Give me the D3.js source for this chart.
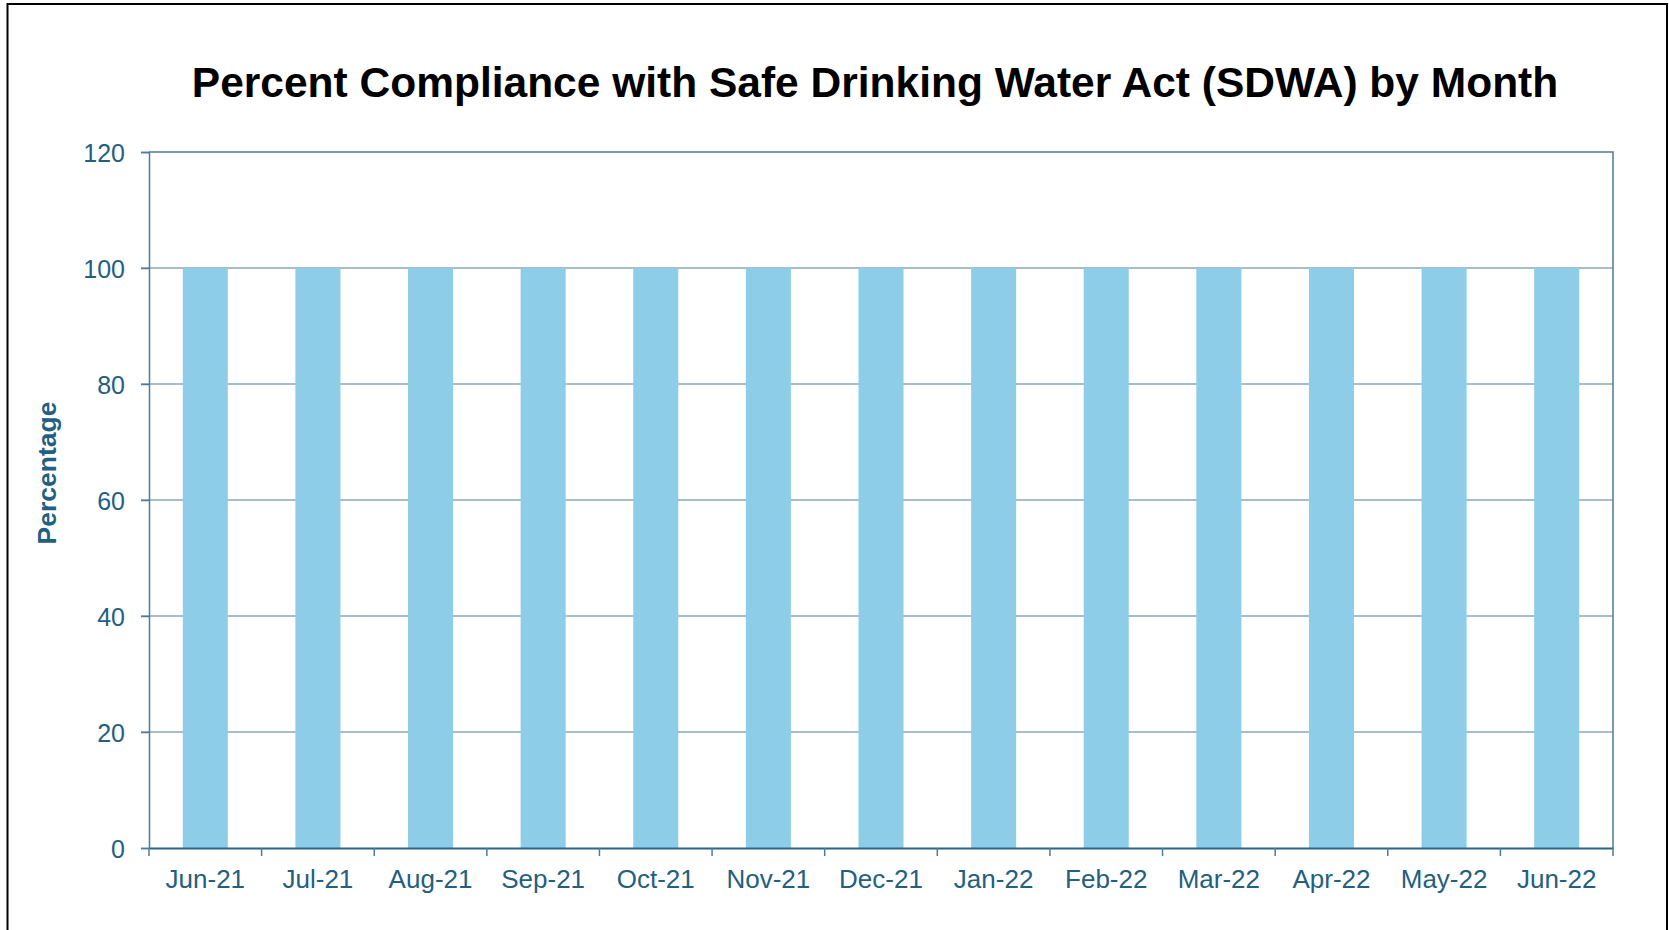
<!DOCTYPE html>
<html lang="en">

<head>
    <meta charset="UTF-8">
    <title>SDWA compliance</title>
    <script src="https://cdn.jsdelivr.net/npm/d3@7/dist/d3.min.js"></script>
    <style>
        body { margin: 0; background: #fff; overflow: hidden; }
        svg { display: block; }
        text { font-family: "Liberation Sans", Arial, sans-serif; }
        .axis text { fill: #235f80; font-size: 25px; }
        #xaxis text { font-size: 26px; }
    </style>
</head>

<body>
    <svg width="1669" height="930" id="mainsvg"></svg>
    <script>
        const months = ["Jun-21", "Jul-21", "Aug-21", "Sep-21", "Oct-21", "Nov-21", "Dec-21",
            "Jan-22", "Feb-22", "Mar-22", "Apr-22", "May-22", "Jun-22"];
        const compliance = [100, 100, 100, 100, 100, 100, 100, 100, 100, 100, 100, 100, 100];
        const yTicks = [0, 20, 40, 60, 80, 100, 120];

        const svg = d3.select('#mainsvg');
        const margin = { top: 152, right: 56, bottom: 82, left: 149 };
        const width = +svg.attr('width');
        const height = +svg.attr('height');
        const innerWidth = width - margin.left - margin.right;
        const innerHeight = height - margin.top - margin.bottom;

        // outer frame (bottom edge falls outside the picture)
        svg.append('path')
            .attr('d', 'M7.5,930V4H1667V930')
            .attr('fill', 'none').attr('stroke', '#000').attr('stroke-width', 2);

        svg.append('text')
            .attr('x', 875).attr('y', 97)
            .attr('text-anchor', 'middle')
            .attr('font-size', '42.5px').attr('font-weight', 'bold')
            .attr('fill', '#000')
            .text('Percent Compliance with Safe Drinking Water Act (SDWA) by Month');

        const g = svg.append('g')
            .attr('transform', `translate(${margin.left}, ${margin.top})`);

        const xScale = d3.scaleBand().domain(months).range([0, innerWidth]).paddingInner(0.6).paddingOuter(0.3);
        const xGrid = d3.scaleBand().domain(months).range([0, innerWidth]);
        const yScale = d3.scaleLinear().domain([0, 120]).range([innerHeight, 0]);

        // gridlines
        g.append('g').selectAll('line').data(yTicks.filter(d => d > 0 && d < 120)).join('line')
            .attr('x1', -8).attr('x2', innerWidth)
            .attr('y1', d => yScale(d)).attr('y2', d => yScale(d))
            .attr('stroke', '#8aa7b9').attr('stroke-width', 1.5);

        // bars
        g.append('g').selectAll('rect').data(compliance).join('rect')
            .attr('x', (d, i) => xScale(months[i]))
            .attr('y', d => yScale(d))
            .attr('width', xScale.bandwidth())
            .attr('height', d => innerHeight - yScale(d))
            .attr('fill', '#8ecde8');

        // plot border (top and right)
        g.append('path')
            .attr('d', `M0,0H${innerWidth}V${innerHeight}`)
            .attr('fill', 'none').attr('stroke', '#4d7c9a').attr('stroke-width', 1.5);

        const yAxis = d3.axisLeft(yScale).tickValues(yTicks).tickSize(8).tickPadding(16);
        g.append('g').attr('class', 'axis').call(yAxis)
            .call(a => a.selectAll('line, path').attr('stroke', '#4d7c9a').attr('stroke-width', 1.5))
            .call(a => a.selectAll('text').attr('dy', '0.36em'));

        const xAxis = d3.axisBottom(xGrid).tickSize(0).tickPadding(22);
        g.append('g').attr('class', 'axis').attr('id', 'xaxis').attr('transform', `translate(0, ${innerHeight})`).call(xAxis)
            .call(a => a.select('.domain').attr('stroke', '#2b6587').attr('stroke-width', 2))
            .call(a => a.selectAll('text').attr('dy', '0.71em'));

        // x tick marks at band boundaries
        g.append('g').selectAll('line').data(d3.range(months.length + 1)).join('line')
            .attr('x1', i => i * xGrid.step()).attr('x2', i => i * xGrid.step())
            .attr('y1', innerHeight).attr('y2', innerHeight + 8)
            .attr('stroke', '#4d7c9a').attr('stroke-width', 1.5);

        svg.append('text')
            .attr('transform', 'translate(56, 473) rotate(-90)')
            .attr('text-anchor', 'middle')
            .attr('font-size', '26.5px').attr('font-weight', 'bold')
            .attr('fill', '#235f80')
            .text('Percentage');
    </script>
</body>

</html>
